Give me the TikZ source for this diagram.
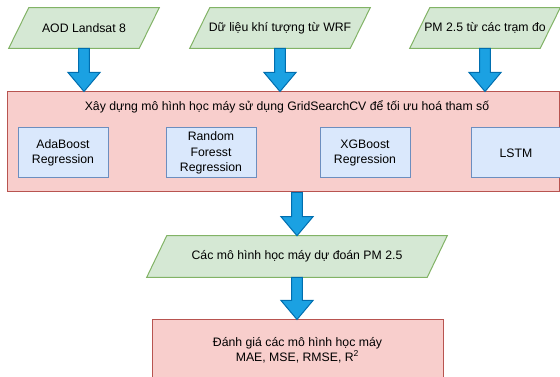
\documentclass[tikz,border=0pt]{standalone}
\usepackage{fontspec}
\setmainfont{Liberation Sans}
\usetikzlibrary{calc,positioning,backgrounds}
\definecolor{datafill}{HTML}{D5E8D4}
\definecolor{dataline}{HTML}{82B366}
\definecolor{stagefill}{HTML}{F8CECC}
\definecolor{stageline}{HTML}{B85450}
\definecolor{algofill}{HTML}{DAE8FC}
\definecolor{algoline}{HTML}{6C8EBF}
\definecolor{arrfill}{HTML}{1BA1E2}
\definecolor{arrline}{HTML}{006EAF}
\tikzset{
  databox/.style={minimum height=30pt,inner sep=0pt,align=center},
  dataedge/.style={draw=dataline,fill=datafill,line width=0.75pt,line join=miter},
  stagebox/.style={draw=stageline,fill=stagefill,line width=0.75pt,inner sep=0pt,align=center},
  algobox/.style={draw=algoline,fill=algofill,line width=0.75pt,minimum width=67.5pt,minimum height=37.5pt,inner sep=0pt,align=center},
  fatarr/.style={draw=arrline,fill=arrfill,line width=0.75pt,line join=miter,
    to path={let \p1=(\tikztostart),\p2=(\tikztotarget) in
      (\x1-4.1pt,\y1) -- (\x1+4.1pt,\y1) -- (\x1+4.1pt,\y2+14.25pt) -- (\x1+12pt,\y2+14.25pt)
      -- (\x1,\y2) -- (\x1-12pt,\y2+14.25pt) -- (\x1-4.1pt,\y2+14.25pt) -- cycle}}
}
\begin{document}
\begin{tikzpicture}[x=0.75pt,y=-0.75pt,font=\fontsize{9.2pt}{11.5pt}\selectfont]
\useasboundingbox (0,0) rectangle (560,377);
\node[databox,minimum width=97.5pt] (aod) at (84,28) {AOD Landsat 8};
\node[databox,minimum width=120pt] (wrf) at (280,28) {Dữ liệu khí tượng từ WRF};
\node[databox,minimum width=97.5pt] (pm) at (485,28) {PM 2.5 từ các trạm đo};
\node[stagebox,minimum width=414pt,minimum height=75pt] (build) at (283,142) {};
\node (buildtitle) at (287,107) {Xây dựng mô hình học máy sử dụng GridSearchCV để tối ưu hoá tham số};
\node[algobox] (ada) at (63,153) {AdaBoost\\Regression};
\node[algobox,right=42.75pt of ada] (rf) {Random\\Foresst\\Regression};
\node[algobox,right=47.25pt of rf] (xgb) {XGBoost\\Regression};
\node[algobox,right=45pt of xgb] (lstm) {LSTM};
\node[databox,minimum width=210pt,minimum height=30.75pt] (models) at (297,256.5) {Các mô hình học máy dự đoán PM 2.5};
\node[stagebox,minimum width=218.25pt,minimum height=45pt,font=\fontsize{9.2pt}{11.25pt}\selectfont] (eval) at (297.5,350) {Đánh giá các mô hình học máy\\MAE, MSE, RMSE, R\textsuperscript{2}};
\begin{scope}[on background layer]
\foreach \n in {aod,wrf,pm,models}
  \draw[dataedge] ([xshift=-7.5pt]\n.south west) -- ([xshift=7.5pt]\n.north west)
    -- ([xshift=7.5pt]\n.north east) -- ([xshift=-7.5pt]\n.south east) -- cycle;
\end{scope}
\draw[fatarr] (aod.south) to (aod |- build.north);
\draw[fatarr] (wrf.south) to (wrf |- build.north);
\draw[fatarr] (pm.south) to (pm |- build.north);
\draw[fatarr] (models |- build.south) to (models.north);
\draw[fatarr] (models.south) to (eval.north);
\end{tikzpicture}
\end{document}
